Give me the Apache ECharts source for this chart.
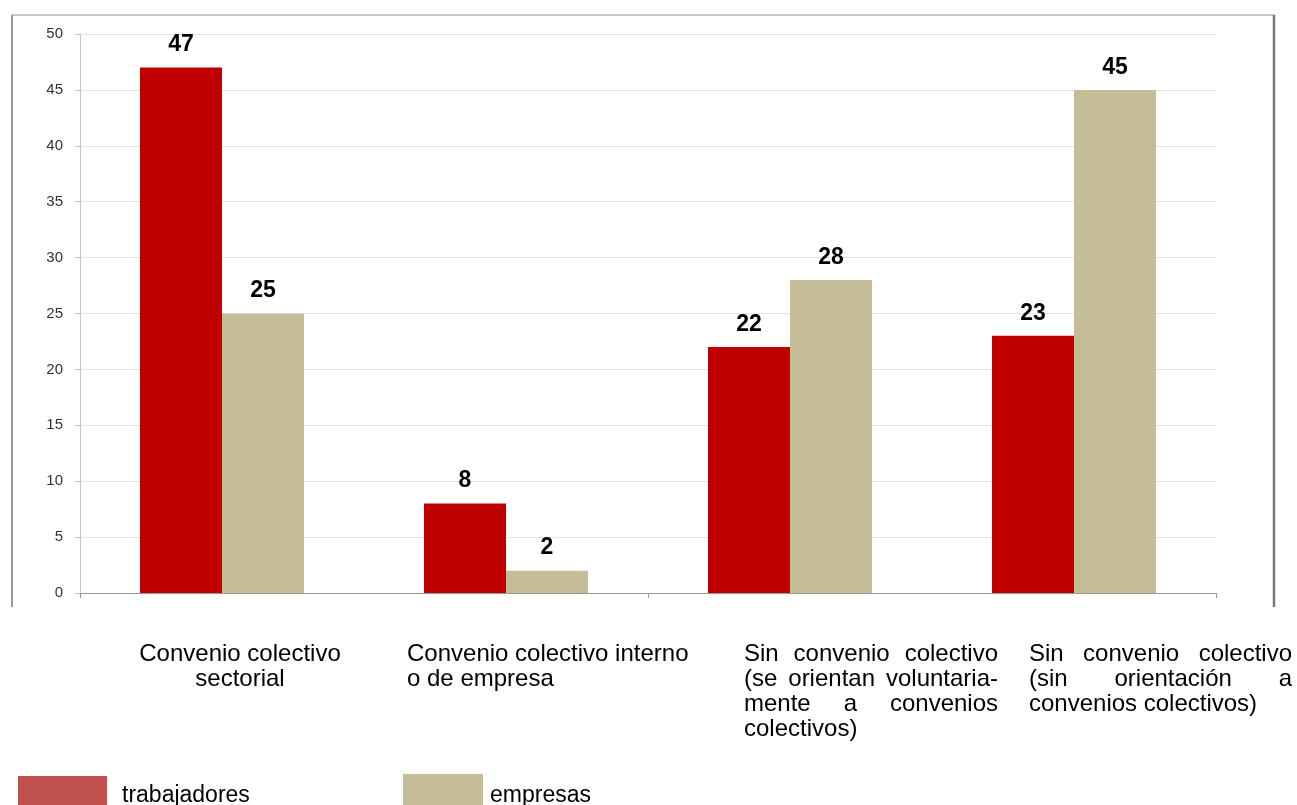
<!DOCTYPE html>
<html>
<head>
<meta charset="utf-8">
<script src="https://cdn.jsdelivr.net/npm/echarts@6/dist/echarts.min.js"></script>
<style>
    html, body { margin: 0; padding: 0; background: #fff; }
    #chart { width: 1297px; height: 805px; }
</style>
</head>
<body>
<div id="chart"></div>
<script>
// datos del gráfico
const categories = [
    'Convenio colectivo sectorial',
    'Convenio colectivo interno o de empresa',
    'Sin convenio colectivo (se orientan voluntariamente a convenios colectivos)',
    'Sin convenio colectivo (sin orientación a convenios colectivos)'
];
const categoryLines = [
    ['Convenio colectivo', 'sectorial'],
    ['Convenio colectivo interno', 'o de empresa'],
    ['Sin convenio colectivo', '(se orientan voluntaria-', 'mente a convenios', 'colectivos)'],
    ['Sin convenio colectivo', '(sin orientación a', 'convenios colectivos)']
];
const seriesNames = ['trabajadores', 'empresas'];
const trabajadores = [47, 8, 22, 23];
const empresas = [25, 2, 28, 45];
const yMin = 0, yMax = 50, yStep = 5;

// disposición de las etiquetas de categoría (cajas de texto)
const labelAlign = ['center', 'left', 'justify', 'justify'];
const labelOffset = [-107, -99, -46, -45];
const labelWidth = [250, 290, 254, 263];

const FONT = '"Liberation Sans", Arial, sans-serif';

const chart = echarts.init(document.getElementById('chart'));

chart.setOption({
    animation: false,
    backgroundColor: '#fff',
    grid: { left: 80, right: 81, top: 34, bottom: 212, containLabel: false, outerBoundsMode: 'none' },
    legend: [
        {
            data: [{ name: seriesNames[0], itemStyle: { color: '#C0504D' } }],
            left: 18, top: 776, padding: 0,
            itemWidth: 89, itemHeight: 40, icon: 'rect', selectedMode: false,
            textStyle: { fontSize: 23, fontFamily: FONT, color: '#000', padding: [0, 0, 0, 10] }
        },
        {
            data: [{ name: seriesNames[1], itemStyle: { color: '#C4BD97' } }],
            left: 403, top: 774, padding: 0,
            itemWidth: 80, itemHeight: 44, icon: 'rect', selectedMode: false,
            textStyle: { fontSize: 23, fontFamily: FONT, color: '#000', padding: [0, 0, 0, 2] }
        }
    ],
    xAxis: {
        type: 'category',
        data: categories,
        axisLine: { show: true, lineStyle: { color: '#9a9a9a', width: 1 } },
        axisTick: { show: true, length: 5, lineStyle: { color: '#9a9a9a' } },
        axisLabel: { show: false },
        splitLine: { show: false }
    },
    yAxis: {
        type: 'value',
        min: yMin, max: yMax, interval: yStep,
        axisLine: { show: true, lineStyle: { color: '#c4c4c4' } },
        axisTick: { show: true, length: 5, lineStyle: { color: '#c4c4c4' } },
        axisLabel: { fontSize: 15, fontFamily: FONT, color: '#333', margin: 17 },
        splitLine: { show: true, lineStyle: { color: '#e4e4e4', width: 1 } }
    },
    series: [
        {
            name: seriesNames[0], type: 'bar', data: trabajadores,
            barWidth: 82, barGap: '0%',
            itemStyle: { color: '#C00000' },
            label: { show: true, position: 'top', distance: 11, fontSize: 23, fontWeight: 'bold', fontFamily: FONT, color: '#000' }
        },
        {
            name: seriesNames[1], type: 'bar', data: empresas,
            barWidth: 82, barGap: '0%',
            itemStyle: { color: '#C4BD97' },
            label: { show: true, position: 'top', distance: 11, fontSize: 23, fontWeight: 'bold', fontFamily: FONT, color: '#000' }
        }
    ]
});

// texto justificado: primera palabra a la izquierda, última a la derecha, el resto centrado
function buildLabel(lines, mode) {
    return lines.map((line, i) => {
        if (mode === 'center') return '{c|' + line + '}';
        const words = line.split(' ');
        const isLast = i === lines.length - 1;
        if (mode === 'justify' && !isLast && words.length > 1) {
            const first = words[0];
            const last = words[words.length - 1];
            const mid = words.slice(1, -1).join(' ');
            return '{l|' + first + '}' + (mid ? '{m|' + mid + '}' : '') + '{r|' + last + '}';
        }
        return '{l|' + line + '}';
    }).join('\n');
}

const tokenFont = '24px ' + FONT;
const labelGraphics = categories.map((cat, i) => {
    const cx = chart.convertToPixel({ xAxisIndex: 0 }, cat);
    return {
        type: 'text',
        x: cx + labelOffset[i],
        y: 642,
        silent: true,
        style: {
            text: buildLabel(categoryLines[i], labelAlign[i]),
            width: labelWidth[i],
            font: tokenFont,
            lineHeight: 25,
            fill: '#000',
            align: 'left',
            verticalAlign: 'top',
            rich: {
                l: { align: 'left', font: tokenFont, lineHeight: 25, fill: '#000' },
                m: { align: 'center', font: tokenFont, lineHeight: 25, fill: '#000' },
                r: { align: 'right', font: tokenFont, lineHeight: 25, fill: '#000' },
                c: { align: 'center', font: tokenFont, lineHeight: 25, fill: '#000' }
            }
        }
    };
});

// marco exterior (sin borde inferior)
const frame = [
    { type: 'line', silent: true, shape: { x1: 12, y1: 15, x2: 1274, y2: 15 }, style: { stroke: '#b4b4b4', lineWidth: 1.5 } },
    { type: 'line', silent: true, shape: { x1: 12, y1: 15, x2: 12, y2: 607 }, style: { stroke: '#9a9a9a', lineWidth: 2 } },
    { type: 'line', silent: true, shape: { x1: 1274, y1: 15, x2: 1274, y2: 607 }, style: { stroke: '#777', lineWidth: 2.5 } }
];

chart.setOption({ graphic: frame.concat(labelGraphics) });
</script>
</body>
</html>
